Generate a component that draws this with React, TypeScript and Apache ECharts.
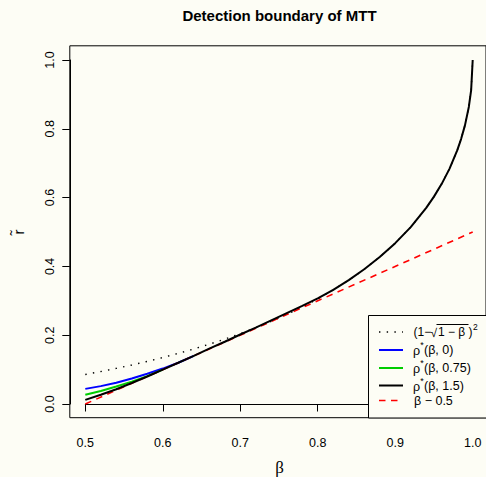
import React, { useEffect, useRef } from "react";
import * as echarts from "echarts";

const BG = "#fdfdf5";

// tick values
const xTickValues = [0.5, 0.6, 0.7, 0.8, 0.9, 1.0];
const yTickValues = [0.0, 0.2, 0.4, 0.6, 0.8, 1.0];

// (1 - sqrt(1 - beta))^2  (dotted)
const dottedBeta = [0.5, 0.52, 0.54, 0.56, 0.58, 0.6, 0.62, 0.64, 0.66, 0.68, 0.7, 0.72, 0.74, 0.76, 0.78, 0.8, 0.82, 0.84, 0.86, 0.88, 0.9, 0.92, 0.94, 0.95, 0.96, 0.97, 0.98, 0.985, 0.99, 0.995, 0.998, 1.0];
const dottedR = [0.0858, 0.0944, 0.1035, 0.1134, 0.1239, 0.1351, 0.1471, 0.16, 0.1738, 0.1886, 0.2046, 0.2217, 0.2402, 0.2602, 0.2819, 0.3056, 0.3315, 0.36, 0.3917, 0.4272, 0.4675, 0.5143, 0.5701, 0.6028, 0.64, 0.6836, 0.7372, 0.7701, 0.81, 0.8636, 0.9126, 1.0];

// rho*(beta, 1.5)  (black)
const blackBeta = [0.5, 0.52, 0.54, 0.56, 0.58, 0.6, 0.62, 0.64, 0.66, 0.68, 0.7, 0.72, 0.74, 0.76, 0.78, 0.8, 0.82, 0.84, 0.86, 0.88, 0.9, 0.92, 0.94, 0.95, 0.96, 0.97, 0.98, 0.985, 0.99, 0.995, 0.998, 1.0];
const blackR = [0.012, 0.027, 0.043, 0.061, 0.08, 0.1, 0.12, 0.14, 0.161, 0.181, 0.202, 0.222, 0.243, 0.264, 0.285, 0.307, 0.332, 0.36, 0.3917, 0.4272, 0.4675, 0.5143, 0.5701, 0.6028, 0.64, 0.6836, 0.7372, 0.7701, 0.81, 0.8636, 0.9126, 1.0];

// rho*(beta, 0)  (blue)
const blueBeta = [0.5, 0.52, 0.54, 0.56, 0.58, 0.6, 0.62, 0.64];
const blueR = [0.044, 0.052, 0.062, 0.074, 0.088, 0.103, 0.12, 0.14];

// rho*(beta, 0.75)  (green)
const greenBeta = [0.5, 0.52, 0.54, 0.56, 0.58, 0.6];
const greenR = [0.027, 0.038, 0.051, 0.065, 0.081, 0.1];

// beta - 0.5  (red dashed)
const redBeta = [0.5, 1.0];
const redR = [0.0, 0.5];

const rhoParams = ["0", "0.75", "1.5"];
const rhoColors = ["#0000ff", "#00cd00", "#000000"];

const pairs = (xs: number[], ys: number[]) => xs.map((x, i) => [x, ys[i]]);

const FONT = "'Liberation Sans', Arial, Helvetica, sans-serif";

export default function App() {
  const ref = useRef<HTMLDivElement>(null);
  useEffect(() => {
    document.body.style.margin = "0";
    document.body.style.background = BG;
    const chart = echarts.init(ref.current!, null, { renderer: "svg" });

    const legendY = [332, 350, 368, 385.5, 400.5];
    const lx1 = 379;
    const lx2 = 403;
    const tx = 413;
    const txt = (text: string, x: number, y: number, size: number, extra: any = {}) => ({
      type: "text", z: 101, x, y,
      style: { text, font: `${size}px ${FONT}`, fill: "#000", textAlign: "left", textVerticalAlign: "middle", ...extra },
    });
    const graphics: any[] = [
      {
        type: "text", x: 279.5, y: 15, z: 100,
        style: { text: "Detection boundary of MTT", font: `bold 15px ${FONT}`, fill: "#000", textAlign: "center", textVerticalAlign: "middle" },
      },
      {
        type: "text", x: 279.5, y: 467, z: 100,
        style: { text: "β", font: `17px 'Liberation Serif', serif`, fill: "#000", textAlign: "center", textVerticalAlign: "middle" },
      },
      {
        type: "text", x: 18.5, y: 232, rotation: Math.PI / 2, z: 100,
        style: { text: "r\u0303", font: `15px ${FONT}`, fill: "#000", textAlign: "center", textVerticalAlign: "middle" },
      },
      {
        type: "rect", z: 100,
        shape: { x: 368.5, y: 315.5, width: 130, height: 102.5 },
        style: { fill: BG, stroke: "#000", lineWidth: 1 },
      },
      // legend samples
      { type: "line", z: 101, shape: { x1: lx1, y1: legendY[0], x2: lx2, y2: legendY[0] }, style: { stroke: "#000", lineWidth: 1.4, lineDash: [1.4, 6.3] } },
      ...rhoColors.map((c, i) => ({ type: "line", z: 101, shape: { x1: lx1, y1: legendY[i + 1], x2: lx2, y2: legendY[i + 1] }, style: { stroke: c, lineWidth: 2 } })),
      { type: "line", z: 101, shape: { x1: lx1, y1: legendY[4], x2: lx2, y2: legendY[4] }, style: { stroke: "#ff0000", lineWidth: 1.6, lineDash: [6.5, 5.5] } },
      // legend entry 1: (1 - sqrt(1 - beta))^2
      txt("(1−", 413.5, legendY[0], 12),
      txt("√", 430.5, legendY[0] + 0.5, 12),
      { type: "line", z: 101, shape: { x1: 436.5, y1: 324.5, x2: 468.5, y2: 324.5 }, style: { stroke: "#000", lineWidth: 1 } },
      txt("1 − β", 438, legendY[0], 12),
      txt(")", 468.5, legendY[0], 12),
      txt("2", 473, legendY[0] - 5, 8.5),
      // rho entries
      ...rhoParams.flatMap((p, i) => [
        txt("ρ", tx, legendY[i + 1] + 1, 12.5),
        txt("*", tx + 7.2, legendY[i + 1] - 5, 9),
        txt(`(β, ${p})`, tx + 11, legendY[i + 1], 12.5),
      ]),
      txt("β − 0.5", 414, legendY[4], 12.5),
    ];

    const lineSeries = (name: string, data: number[][], color: string, width: number, type: any, z: number) => ({
      name,
      type: "line",
      xAxisIndex: 1,
      yAxisIndex: 1,
      data,
      showSymbol: false,
      symbol: "none",
      clip: false,
      z,
      lineStyle: { color, width, type, cap: "butt" },
    });

    chart.setOption({
      animation: false,
      backgroundColor: BG,
      grid: [
        { left: 69.8, top: 45.8, width: 418.4, height: 371.9, show: true, borderColor: "#000", borderWidth: 1, backgroundColor: "transparent" },
        { left: 85.3, top: 60, width: 387.4, height: 344 },
      ],
      xAxis: [
        { gridIndex: 0, type: "value", min: 0.48, max: 1.02, show: false },
        {
          gridIndex: 1, type: "value", min: xTickValues[0], max: xTickValues[xTickValues.length - 1], interval: 0.1,
          position: "bottom", offset: 14,
          axisLine: { show: true, lineStyle: { color: "#000", width: 1 } },
          axisTick: { show: true, length: 7.5, lineStyle: { color: "#000", width: 1 } },
          axisLabel: { margin: 18.5, fontSize: 12.5, fontFamily: FONT, color: "#000", formatter: (v: number) => v.toFixed(1) },
          splitLine: { show: false },
        },
      ],
      yAxis: [
        { gridIndex: 0, type: "value", min: -0.04, max: 1.04, show: false },
        {
          gridIndex: 1, type: "value", min: yTickValues[0], max: yTickValues[yTickValues.length - 1], interval: 0.2,
          position: "left", offset: 15.5,
          axisLine: { show: true, lineStyle: { color: "#000", width: 1 } },
          axisTick: { show: true, length: 7.5, lineStyle: { color: "#000", width: 1 } },
          axisLabel: { rotate: 90, margin: 13, fontSize: 12.5, fontFamily: FONT, color: "#000", formatter: (v: number) => v.toFixed(1) },
          splitLine: { show: false },
        },
      ],
      series: [
        lineSeries("dotted", pairs(dottedBeta, dottedR), "#000", 1.4, [1.4, 6.3], 2),
        lineSeries("blue", pairs(blueBeta, blueR), "#0000ff", 2, "solid", 3),
        lineSeries("green", pairs(greenBeta, greenR), "#00cd00", 2, "solid", 4),
        lineSeries("red", pairs(redBeta, redR), "#ff0000", 1.6, [6.5, 5.5], 5),
        lineSeries("black", pairs(blackBeta, blackR), "#000", 2, "solid", 6),
      ],
      graphic: graphics,
    });
    return () => chart.dispose();
  }, []);
  return <div ref={ref} style={{ width: 486, height: 477 }} />;
}
